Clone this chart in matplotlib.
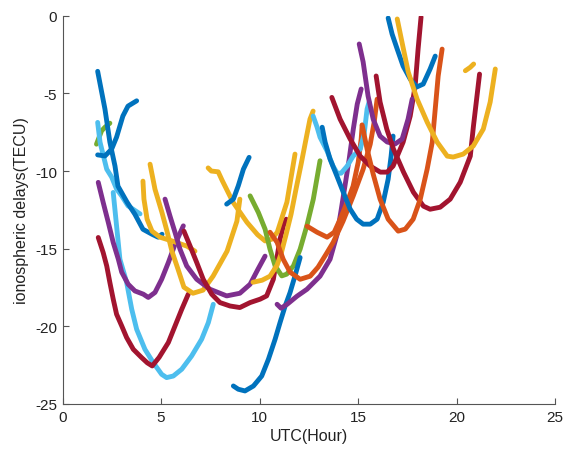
import matplotlib
matplotlib.use("Agg")
import matplotlib.pyplot as plt

plt.rcParams['font.family'] = ['Liberation Sans', 'DejaVu Sans']

# ---- data: (hour, TECU) for each satellite arc ----
h01 = [1.78, 2.15, 2.40, 2.66, 2.81, 3.27, 3.67, 4.08, 4.54, 4.85, 5.05]
v01 = [-3.58, -6.01, -8.14, -9.68, -10.97, -12.0, -12.78, -13.75, -14.07, -14.26, -14.07]
h02 = [1.78, 2.15, 2.49, 2.74, 3.06, 3.32, 3.76]
v02 = [-8.96, -9.03, -8.59, -7.82, -6.46, -5.82, -5.48]
h03 = [1.72, 1.98, 2.15, 2.40]
v03 = [-8.27, -7.41, -7.18, -6.92]
h04 = [1.78, 1.90, 2.24, 2.49, 2.74, 3.0, 3.32, 3.93]
v04 = [-6.87, -8.14, -9.88, -10.39, -11.16, -11.6, -12.24, -12.76]
h05 = [2.57, 2.74, 2.91, 3.25, 3.51, 3.76, 4.18, 4.60, 5.03, 5.28, 5.62, 6.05, 6.55, 7.06, 7.40, 7.65]
v05 = [-11.38, -13.53, -15.68, -17.16, -18.9, -20.19, -21.48, -22.33, -23.09, -23.3, -23.2, -22.76, -21.91, -20.83, -19.76, -18.58]
h06 = [1.81, 2.06, 2.32, 2.57, 2.83, 3.0, 3.33, 3.67, 4.10, 4.35, 4.69, 5.03, 5.37, 5.71, 6.13]
v06 = [-10.73, -12.02, -13.31, -14.6, -15.68, -16.51, -17.29, -17.72, -17.93, -18.14, -17.82, -16.97, -15.89, -14.71, -13.53]
h07 = [1.81, 2.06, 2.24, 2.40, 2.57, 2.74, 3.0, 3.25, 3.59, 4.01, 4.30, 4.55, 4.9, 5.37, 5.71, 6.05, 6.38]
v07 = [-14.28, -15.25, -16.11, -17.18, -18.25, -19.22, -19.97, -20.72, -21.48, -22.01, -22.35, -22.55, -22.0, -21.04, -19.97, -18.9, -17.93]
h08 = [4.08, 4.13, 4.29, 4.54, 4.94, 5.6, 6.32, 6.72]
v08 = [-10.65, -11.81, -13.1, -13.87, -14.26, -14.52, -14.84, -15.16]
h09 = [4.44, 4.69, 5.04, 5.30, 5.55, 5.86, 6.16, 6.62, 7.13, 7.64, 8.35, 8.85, 9.0]
v09 = [-9.56, -11.17, -12.65, -13.87, -15.16, -16.32, -17.48, -17.87, -17.67, -16.77, -15.16, -13.23, -11.81]
h10 = [7.39, 7.55, 7.9, 8.1, 8.65, 9.36, 9.9, 10.28, 10.6, 10.9, 11.39, 11.8]
v10 = [-9.8, -10.0, -10.05, -10.6, -12.0, -13.3, -14.1, -14.5, -14.4, -13.94, -12.0, -8.91]
h11 = [9.67, 10.13, 10.53, 10.89, 11.09, 11.35, 11.6, 11.85, 12.11, 12.36, 12.56, 12.72]
v11 = [-17.16, -17.03, -16.77, -16.06, -15.35, -14.07, -12.78, -11.17, -9.56, -7.94, -6.66, -6.14]
h12 = [8.33, 8.67, 8.92, 9.18, 9.47]
v12 = [-12.13, -11.81, -10.95, -9.88, -9.12]
h13 = [9.52, 9.94, 10.28, 10.53, 10.79, 11.13, 11.38, 11.72, 12.06, 12.4, 12.73, 13.07]
v13 = [-11.6, -12.67, -13.74, -15.03, -16.11, -16.75, -16.64, -16.11, -15.03, -13.53, -11.81, -9.34]
h14 = [6.16, 6.47, 6.81, 7.14, 7.57, 7.99, 8.5, 9.0, 9.52, 10.03, 10.36, 10.7, 10.87, 11.04, 11.21, 11.35]
v14 = [-13.87, -14.82, -15.89, -16.97, -17.93, -18.47, -18.69, -18.79, -18.47, -18.25, -18.04, -16.97, -15.68, -14.39, -13.53, -13.1]
h15 = [5.2, 5.45, 5.71, 5.96, 6.3, 6.81, 7.48, 8.33, 9.0, 9.52, 9.92, 10.28]
v15 = [-11.81, -12.89, -13.96, -15.03, -16.11, -16.97, -17.61, -18.04, -17.87, -17.29, -16.32, -15.48]
h16 = [8.67, 8.92, 9.26, 9.69, 10.11, 10.45, 10.79, 11.04, 11.3, 11.55, 11.8, 12.06]
v16 = [-23.84, -24.05, -24.16, -23.84, -23.2, -22.12, -20.83, -19.76, -18.69, -17.82, -16.75, -15.57]
h17 = [10.89, 11.09, 11.4, 11.9, 12.41, 13.07, 13.58, 13.94, 14.15, 14.35, 14.55, 14.76, 14.96, 15.16]
v17 = [-18.58, -18.83, -18.58, -18.06, -17.61, -16.77, -15.68, -14.07, -12.46, -10.85, -9.24, -7.3, -5.69, -4.72]
h18 = [16.53, 16.73, 16.99, 17.29, 17.65, 17.98, 18.31, 18.66, 18.92]
v18 = [-0.15, -1.18, -2.15, -3.24, -4.08, -4.59, -4.4, -3.43, -2.6]
h19 = [16.99, 17.23, 17.55, 18.0, 18.51, 19.02, 19.53, 19.83, 20.34, 20.85, 21.36, 21.71, 21.97]
v19 = [-0.21, -1.69, -3.63, -5.37, -6.85, -8.14, -9.04, -9.1, -8.91, -8.39, -7.3, -5.56, -3.43]
h20 = [20.45, 20.7, 20.87]
v20 = [-3.54, -3.32, -3.11]
h21 = [13.67, 14.09, 14.6, 15.11, 15.62, 16.13, 16.48, 16.78, 17.29, 17.65, 17.9, 18.05, 18.2]
v21 = [-5.26, -6.66, -7.94, -9.04, -9.68, -10.07, -10.07, -9.68, -8.14, -6.46, -4.53, -2.15, -0.08]
h22 = [15.06, 15.26, 15.51, 15.77, 16.12, 16.48, 16.88, 17.24, 17.54, 17.75]
v22 = [-1.82, -2.98, -5.17, -6.66, -7.75, -8.13, -8.26, -7.94, -6.66, -5.37]
h23 = [15.92, 16.12, 16.46, 16.8, 17.31, 17.81, 18.32, 18.66, 19.17, 19.68, 20.19, 20.7, 20.86, 21.04, 21.17]
v23 = [-3.88, -5.56, -7.3, -8.59, -10.07, -11.36, -12.26, -12.46, -12.33, -11.81, -10.72, -9.04, -7.11, -5.17, -3.76]
h24 = [15.21, 15.46, 15.77, 16.12, 16.53, 17.04, 17.4, 17.8, 18.16, 18.51, 18.77, 18.92, 19.07, 19.27]
v24 = [-7.04, -8.59, -10.2, -11.81, -13.1, -13.87, -13.74, -13.1, -11.81, -9.88, -8.14, -6.01, -3.88, -2.15]
h25 = [10.53, 10.89, 11.2, 11.55, 12.06, 12.57, 12.97, 13.38, 13.74, 14.24, 14.75, 15.26, 15.62, 15.82, 15.97]
v25 = [-13.94, -14.59, -15.68, -16.51, -16.97, -16.77, -16.19, -15.35, -14.59, -13.23, -11.62, -9.88, -8.27, -6.85, -5.37]
h26 = [12.41, 12.92, 13.43, 13.79, 14.09, 14.45, 14.75, 15.01, 15.16, 15.21]
v26 = [-13.55, -13.94, -14.26, -13.94, -13.1, -12.0, -10.97, -9.43, -7.94, -7.04]
h27 = [12.72, 12.92, 13.07, 13.43, 13.73, 13.94, 14.14, 14.45, 14.75, 15.11, 15.31, 15.46, 15.56]
v27 = [-6.46, -7.17, -7.82, -8.72, -9.68, -10.14, -10.14, -9.68, -9.04, -8.59, -7.62, -6.01, -5.56]
h28 = [13.18, 13.33, 13.58, 13.93, 14.25, 14.6, 14.93, 15.26, 15.62, 15.97, 16.28, 16.53, 16.68, 16.78]
v28 = [-7.18, -8.14, -9.23, -10.33, -11.36, -12.45, -13.1, -13.42, -13.42, -13.1, -12.0, -10.52, -9.04, -7.75]

xticks = [0, 5, 10, 15, 20, 25]
yticks = [-25, -20, -15, -10, -5, 0]

# ---- styles (MATLAB default colour order) ----
BLUE, ORANGE, YELLOW, PURPLE = '#0072BD', '#D95319', '#EDB120', '#7E2F8E'
GREEN, LBLUE, DRED = '#77AC30', '#4DBEEE', '#A2142F'

arcs = [
    (h03, v03, GREEN), (h04, v04, LBLUE), (h02, v02, BLUE), (h01, v01, BLUE),
    (h05, v05, LBLUE), (h06, v06, PURPLE), (h07, v07, DRED), (h08, v08, YELLOW),
    (h09, v09, YELLOW), (h15, v15, PURPLE), (h14, v14, DRED), (h10, v10, YELLOW),
    (h12, v12, BLUE), (h13, v13, GREEN), (h11, v11, YELLOW), (h16, v16, BLUE),
    (h17, v17, PURPLE), (h25, v25, ORANGE), (h26, v26, ORANGE), (h27, v27, LBLUE),
    (h28, v28, BLUE), (h21, v21, DRED), (h22, v22, PURPLE), (h23, v23, DRED),
    (h24, v24, ORANGE), (h18, v18, BLUE), (h19, v19, YELLOW), (h20, v20, YELLOW),
]

fig = plt.figure(figsize=(5.64, 4.52), dpi=100)
ax = fig.add_axes([0.111, 0.104, 0.873, 0.859])
for hh, vv, c in arcs:
    ax.plot(hh, vv, color=c, lw=3.5, solid_capstyle='round', solid_joinstyle='round')

ax.set_xlim(0, 25)
ax.set_ylim(-25, 0)
ax.set_xticks(xticks)
ax.set_yticks(yticks)
ax.set_xticklabels([str(t) for t in xticks])
ax.set_yticklabels([str(t) for t in yticks])
for s in ['top', 'right']:
    ax.spines[s].set_visible(False)
for s in ['left', 'bottom']:
    ax.spines[s].set_color('#555555')
    ax.spines[s].set_linewidth(0.8)
ax.tick_params(direction='in', length=4, width=0.8, color='#555555',
               labelsize=11, labelcolor='#222222', pad=4)
ax.set_xlabel('UTC(Hour)', fontsize=11.5, color='#222222', labelpad=3)
ax.set_ylabel('ionospheric delays(TECU)', fontsize=11.5, color='#222222', labelpad=4)

fig.savefig('out.png', dpi=100)
